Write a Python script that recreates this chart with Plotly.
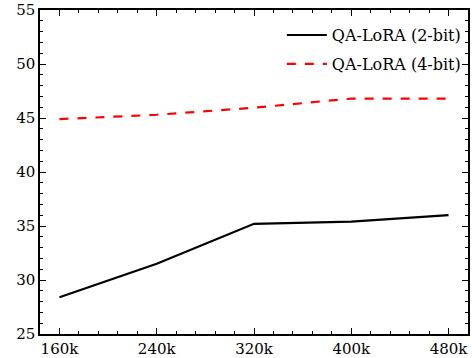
import plotly.graph_objects as go

steps = [160, 240, 320, 400, 480]
tick_labels = ["160k", "240k", "320k", "400k", "480k"]
qa_2bit = [28.4, 31.5, 35.2, 35.4, 36.0]
qa_4bit = [44.9, 45.3, 45.95, 46.8, 46.8]

fig = go.Figure()
fig.add_trace(go.Scatter(x=steps, y=qa_2bit, mode="lines", name="QA-LoRA (2-bit)",
                         legendgroup="a", line=dict(color="black", width=2.2)))
fig.add_trace(go.Scatter(x=steps, y=qa_4bit, mode="lines", name="QA-LoRA (4-bit)",
                         legendgroup="b", line=dict(color="red", width=2.2, dash="dash")))

font = dict(family="DejaVu Serif", size=15, color="black")
legend_font = dict(family="DejaVu Serif", size=16, color="black")
axis_common = dict(showline=True, linecolor="#000000", linewidth=1.5, mirror="ticks",
                   ticks="inside", ticklen=6, tickwidth=1.2, tickcolor="#000000",
                   showgrid=False, zeroline=False, tickfont=font, automargin=False,
                   layer="above traces")
fig.update_xaxes(range=[144, 496], tickvals=steps, ticktext=tick_labels,
                 minor=dict(dtick=16, tick0=0, ticks="inside", ticklen=3, tickwidth=1,
                            tickcolor="#000000"),
                 **axis_common)
fig.update_yaxes(range=[25, 55], dtick=5, tick0=25,
                 minor=dict(dtick=1, ticks="inside", ticklen=3, tickwidth=1,
                            tickcolor="#000000"),
                 **axis_common)
fig.update_layout(width=472, height=358, plot_bgcolor="white", paper_bgcolor="white",
                  template="simple_white",
                  margin=dict(l=40, r=4, t=10, b=24), font=font,
                  legend=dict(x=0.995, y=0.975, xanchor="right", yanchor="top",
                              bgcolor="rgba(0,0,0,0)", font=legend_font, itemwidth=40,
                              traceorder="grouped", tracegroupgap=5))
fig.write_html("out.html", config={"displayModeBar": False},
               post_script="document.body.style.margin='0';")
